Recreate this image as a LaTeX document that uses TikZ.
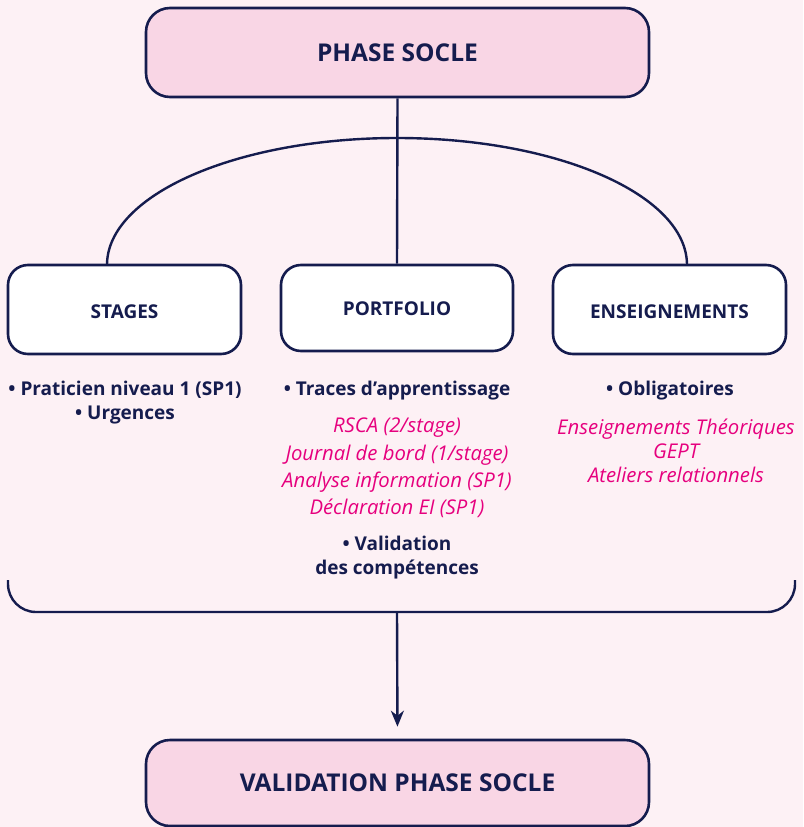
\documentclass[tikz,border=0pt]{standalone}
\usepackage{fontspec}
\setmainfont{Open Sans}
\usetikzlibrary{arrows.meta}

\definecolor{pagebg}{RGB}{253,241,245}
\definecolor{boxpink}{RGB}{249,214,229}
\definecolor{navy}{RGB}{21,28,78}
\definecolor{magenta}{RGB}{230,0,126}

% lower a box label without changing the node size
\newcommand{\lowerlabel}[2]{\raisebox{-#1}[\height][0pt]{#2}}

\tikzset{
  mainbox/.style={draw=navy, line width=2.6pt, fill=boxpink, rounded corners=24pt,
    text=navy, font=\fontsize{24.5}{28}\selectfont\bfseries},
  catbox/.style={draw=navy, line width=2.6pt, fill=white, rounded corners=20pt,
    text=navy, font=\fontsize{19}{22}\selectfont\bfseries},
  bodytext/.style={text=navy, align=center, inner sep=0pt,
    font=\fontsize{19}{24}\selectfont\bfseries},
  pinktext/.style={text=magenta, align=center, inner sep=0pt,
    font=\fontsize{20.3}{27.3}\selectfont\itshape},
  link/.style={draw=navy, line width=2.4pt},
}

\begin{document}
\begin{tikzpicture}[x=1pt, y=-1pt]
  % page
  \fill[pagebg] (0,0) rectangle (803,827);
  \useasboundingbox (0,0) rectangle (803,827);

  % top and bottom phase boxes
  \node[mainbox, minimum width=503pt, minimum height=89pt] (phase) at (397.5,52.5) {PHASE SOCLE};
  \node[mainbox, minimum width=503pt, minimum height=86pt] (valid) at (397.5,783) {VALIDATION PHASE SOCLE};

  % the three branches
  \node[catbox, minimum width=233pt, minimum height=89pt] (stages) at (124.5,309.5) {\lowerlabel{2pt}{STAGES}};
  \node[catbox, minimum width=232pt, minimum height=86pt] (port) at (397,308) {\lowerlabel{1pt}{PORTFOLIO}};
  \node[catbox, minimum width=233pt, minimum height=89pt] (ens) at (669.5,309.5) {\lowerlabel{2pt}{ENSEIGNEMENTS}};

  % connectors from the top box
  \coordinate (arcL) at (107,265);
  \coordinate (arcR) at (687,265);
  \draw[link] (phase.south) -- (port.north);
  \draw[link] (arcL) arc[start angle=180, end angle=360, x radius=290, y radius=127];

  % stages content
  \node[bodytext] (stagesTxt) at (125,403) {• Praticien niveau 1 (SP1)\\• Urgences};

  % portfolio content
  \node[bodytext] (traces) at (397,391) {• Traces d’apprentissage};
  \node[pinktext] (portItems) at (397,468) {RSCA (2/stage)\\Journal de bord (1/stage)\\Analyse information (SP1)\\Déclaration EI (SP1)};
  \node[bodytext] (competences) at (397,558) {• Validation\\des compétences};

  % enseignements content
  \node[bodytext] (oblig) at (670,391) {• Obligatoires};
  \node[pinktext, font=\fontsize{20.3}{24}\selectfont\itshape] (ensItems) at (676,451) {Enseignements Théoriques\\GEPT\\Ateliers relationnels};

  % closing bracket and arrow to validation
  \coordinate (brL) at (8,580);
  \coordinate (brR) at (795,580);
  \coordinate (brM) at (397,612);
  \draw[link, rounded corners=28pt] (brL) |- (brR |- brM) -- (brR);
  \draw[link, -{Stealth[length=16pt, width=13pt, inset=5pt]}, shorten >=12pt] (brM) -- (valid.north);
\end{tikzpicture}
\end{document}
